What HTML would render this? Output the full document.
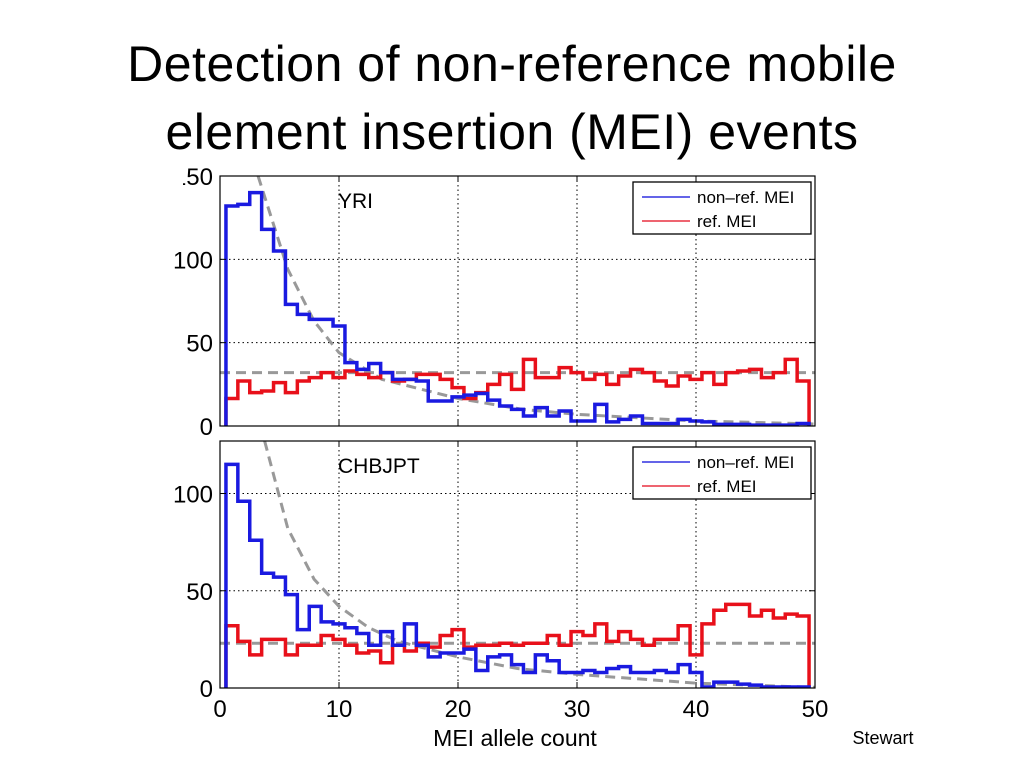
<!DOCTYPE html>
<html><head><meta charset="utf-8"><style>
html,body{margin:0;padding:0;background:#fff;width:1024px;height:768px;overflow:hidden}
#title{position:absolute;left:0;top:30px;width:1024px;text-align:center;font-family:"Liberation Sans",sans-serif;font-size:50px;line-height:68px;color:#000;letter-spacing:0.5px}
svg{position:absolute;left:0;top:0}
text{font-family:"Liberation Sans",sans-serif}
</style></head><body>
<div id="title">Detection of non-reference mobile<br>element insertion (MEI) events</div>
<svg id="chart" width="1024" height="768"></svg>
<script>
const bins = Array.from({length:49},(_,i)=>i+1);
const yriNonRef = [132,133,140,118,105,73,67,64,64,60,38,34,37.5,32,28,28,27,15,15,17.5,18.5,19.5,15.5,12,10,6,11,6,9,3,3,13,2.5,4,6,1.5,1.5,1.5,4,3,2.5,1,1,1,0.5,0.5,0.5,0.5,1.5];
const yriRef = [16.5,27,20,21,26,20,27,29,32,29,33,31,29,32,27,28,31,31,28,23,16.5,20,25,31,22,40,29,29,35,32,28,31,25,30,34,32,27,24,30,28,32,25,32,33,34,29,32,40,27];
const chbNonRef = [115,96,76,59,57,48,30,42,34,33,31,28,22,29,22,33,22,16,18,18,20,9,16,17,12,8,17,14,8,8,9,8,10,11,8,8,9,8,12,8,0.5,3,3,2,1.5,0.5,0.5,0.5,0.5];
const chbRef = [32,24,17,25,25,17,22,22,27,25,22,18,19,13,22,19,23,21,27,30,21,22,22,23,22,23,23,27,22,29,27,33,24,29,25,22,25,25,32,17,33,40,43,43,37,40,36,38,37];
const yriFitX = [3.2,5.7,7.9,10,13.6,20,25.4,30,40,48.6,50];
const yriFitY = [150,94,63,44,28,16.5,10,7,3,1.5,1.2];
const chbFitX = [3.75,5.7,7.9,10,12.5,15,20,25,30,40,49,50];
const chbFitY = [127,82,56,42,31,24,16,10,7,2.5,0.5,0.4];
const yriFlat = 32, chbFlat = 23;
const xTicks = [0,10,20,30,40,50];
const yriTicks = [0,50,100,150];
const chbTicks = [0,50,100];

const NS='http://www.w3.org/2000/svg';
const svg=document.getElementById('chart');
function el(tag,attrs,parent){const e=document.createElementNS(NS,tag);for(const k in attrs)e.setAttribute(k,attrs[k]);(parent||svg).appendChild(e);return e;}
const X0=220,X1=815;
const xs=v=>X0+(X1-X0)*v/50;

function panel(name,top,bottom,ymax,nonRef,ref,fitX,fitY,flat,ticks,label,legTop){
  const g=el('g',{});
  
  
  const ys=v=>bottom-(bottom-top)*v/ymax;
  const clipId='clip-'+name;
  const cp=el('clipPath',{id:clipId},g);el('rect',{x:X0,y:top,width:X1-X0,height:bottom-top},cp);
  xTicks.slice(1,-1).forEach(t=>{const l=el('line',{x1:xs(t),x2:xs(t),y1:top,y2:bottom,stroke:'#000','stroke-width':1,'stroke-dasharray':'1.5 3'},g);
    });
  ticks.forEach(t=>{if(t>0&&t<ymax){const l=el('line',{x1:X0,x2:X1,y1:ys(t),y2:ys(t),stroke:'#000','stroke-width':1,'stroke-dasharray':'1.5 3'},g);
    }});
  const fg=el('g',{'clip-path':'url(#'+clipId+')'},g);
  let d='';fitX.forEach((x,i)=>{d+=(i?'L':'M')+xs(x)+' '+ys(fitY[i]);});
  const fc=el('path',{d:d,fill:'none',stroke:'#999','stroke-width':3,'stroke-dasharray':'10 6'},fg);
  
  const fl=el('line',{x1:X0,x2:X1,y1:ys(flat),y2:ys(flat),stroke:'#999','stroke-width':3,'stroke-dasharray':'10 6'},fg);
  
  function steps(vals,color,nm){
    let d='M'+xs(bins[0]-0.5)+' '+ys(0);
    vals.forEach((v,i)=>{d+='L'+xs(bins[i]-0.5)+' '+ys(v)+'L'+xs(bins[i]+0.5)+' '+ys(v);});
    d+='L'+xs(bins[bins.length-1]+0.5)+' '+ys(0);
    const p=el('path',{d:d,fill:'none',stroke:color,'stroke-width':3.5,'stroke-linejoin':'miter'},fg);
    
  }
  steps(ref,'#e8101a',name+'-ref-mei-series');
  steps(nonRef,'#1a1ae0',name+'-nonref-mei-series');
  const b=el('rect',{x:X0,y:top,width:X1-X0,height:bottom-top,fill:'none',stroke:'#000','stroke-width':1.2},g);
  
  const tc=el('clipPath',{id:clipId+'t'},g);el('rect',{x:183,y:top-30,width:100,height:bottom-top+60},tc);
  ticks.forEach(t=>{
    el('line',{x1:X0,x2:X0+6,y1:ys(t),y2:ys(t),stroke:'#000'},g);
    el('line',{x1:X1,x2:X1-6,y1:ys(t),y2:ys(t),stroke:'#000'},g);
    const attrs={x:213,y:ys(t)+9,'text-anchor':'end','font-size':24};
    if(t===ymax) attrs['clip-path']='url(#'+clipId+'t)';
    const tx=el('text',attrs,g);
    tx.textContent=t;
  });
  xTicks.forEach(t=>{el('line',{x1:xs(t),x2:xs(t),y1:bottom,y2:bottom-6,stroke:'#000'},g);el('line',{x1:xs(t),x2:xs(t),y1:top,y2:top+6,stroke:'#000'},g);});
  const lt=el('text',{x:338,y:top+32,'font-size':21},g);lt.textContent=label;
  
  const lg=el('g',{},g);
  
  el('rect',{x:633,y:legTop,width:178,height:52,fill:'#fff',stroke:'#000','stroke-width':1.3},lg);
  [['non\u2013ref. MEI','#3030e0',15],['ref. MEI','#e83040',39]].forEach(([t,c,dy])=>{
    const e=el('g',{},lg);
    el('line',{x1:642,x2:690,y1:legTop+dy,y2:legTop+dy,stroke:c,'stroke-width':1.5},e);
    const tt=el('text',{x:697,y:legTop+dy+6,'font-size':17},e);tt.textContent=t;
  });
}
panel('yri',176,426,150,yriNonRef,yriRef,yriFitX,yriFitY,yriFlat,yriTicks,'YRI',182);
panel('chbjpt',441,688,127,chbNonRef,chbRef,chbFitX,chbFitY,chbFlat,chbTicks,'CHBJPT',447);
xTicks.forEach(t=>{const tx=el('text',{x:xs(t),y:717,'text-anchor':'middle','font-size':24});tx.textContent=t;
  });
const xl=el('text',{x:515,y:746,'text-anchor':'middle','font-size':23});xl.textContent='MEI allele count';

const st=el('text',{x:883,y:744,'text-anchor':'middle','font-size':18});st.textContent='Stewart';

</script>
</body></html>
